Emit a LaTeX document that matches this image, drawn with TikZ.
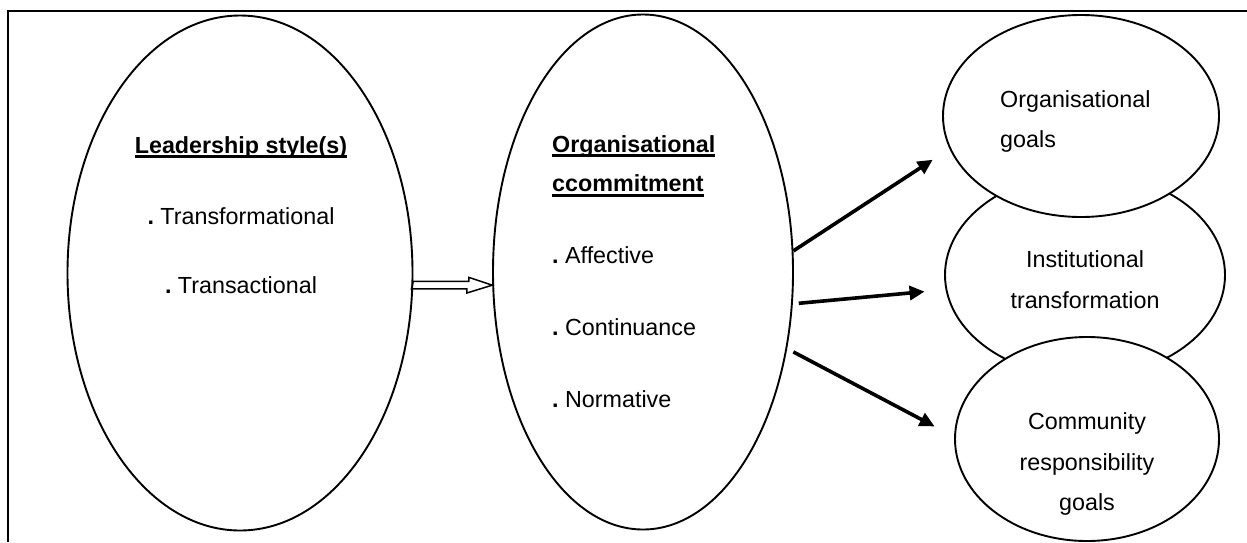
\documentclass[tikz,border=0pt]{standalone}
\usepackage{fontspec}
\setmainfont{Liberation Sans}
\usetikzlibrary{arrows.meta,positioning,shapes.geometric}
\newcommand{\ulhead}[1]{\setbox0=\hbox{\bfseries #1}\rlap{\rule[-5pt]{\wd0}{2.8pt}}\box0}
\newcommand{\itemdot}{\textbf{.}\ }
\tikzset{
outline/.style={line width=2.4pt},
factor/.style={ellipse,draw,line width=1.9pt,inner sep=0pt},
goal/.style={factor,fill=white},
txt/.style={inner sep=0pt,font=\fontsize{23.3}{40}\selectfont},
link/.style={-{Triangle[length=15pt,width=14pt]},line width=3.6pt},
hollow/.style={line width=1.5pt,line join=miter},
}

\begin{document}
\begin{tikzpicture}[x=1pt,y=-1pt]
\useasboundingbox (0,0) rectangle (1247,542);
\draw[outline] (1247,11) -- (8,11) -- (8,542);

% ellipses
\node[factor,minimum width=345pt,minimum height=515pt] (lead) at (240,273) {};
\node[factor,minimum width=300pt,minimum height=515pt] (commit) at (643,272) {};
\node[factor,minimum width=280pt,minimum height=204pt] (inst) at (1085,275) {};
\node[goal,minimum width=276pt,minimum height=202pt] (org) at (1081,116) {};
\node[goal,minimum width=264pt,minimum height=204pt] (comm) at (1087,439) {};

% leadership
\node[txt,anchor=base] (lead1) at (241,153) {\ulhead{Leadership style(s)}};
\node[txt,below=71pt of lead1.base,anchor=base] (lead2) {\itemdot Transformational};
\node[txt,below=69pt of lead2.base,anchor=base] (lead3) {\itemdot Transactional};

% commitment
\node[txt,anchor=base west] (com1) at (552,152) {\ulhead{Organisational}};
\node[txt,below=39.5pt of com1.base west,anchor=base west] (com2) {\ulhead{ccommitment}};
\node[txt,below=72pt of com2.base west,anchor=base west] (com3) {\itemdot Affective};
\node[txt,below=71.5pt of com3.base west,anchor=base west] (com4) {\itemdot Continuance};
\node[txt,below=72pt of com4.base west,anchor=base west] (com5) {\itemdot Normative};

% outcomes
\node[txt,anchor=base west] (org1) at (1000,107) {Organisational};
\node[txt,below=40pt of org1.base west,anchor=base west] (org2) {goals};
\node[txt,anchor=base] (inst1) at (1085,267) {Institutional};
\node[txt,below=41pt of inst1.base,anchor=base] (inst2) {transformation};
\node[txt,anchor=base] (comm1) at (1087,429) {Community};
\node[txt,below=41pt of comm1.base,anchor=base] (comm2) {responsibility};
\node[txt,below=40pt of comm2.base,anchor=base] (comm3) {goals};

% arrows
\coordinate (hs) at (lead.-4);
\draw[hollow] (hs) ++(0,-3.8) -- ++(55.5,0) -- ++(0,-4) -- (commit.185)
  -- ++(-25.4,7.8) -- ++(0,-4) -- ++(-55.5,0) -- cycle;
\draw[link,shorten >=20pt] (commit.8) -- (org.194);
\draw[link,shorten <=6pt,shorten >=21pt] (commit.-12) -- (inst.186);
\draw[link,shorten <=7pt,shorten >=22pt] (commit.-28) -- (comm.179);
\end{tikzpicture}
\end{document}
